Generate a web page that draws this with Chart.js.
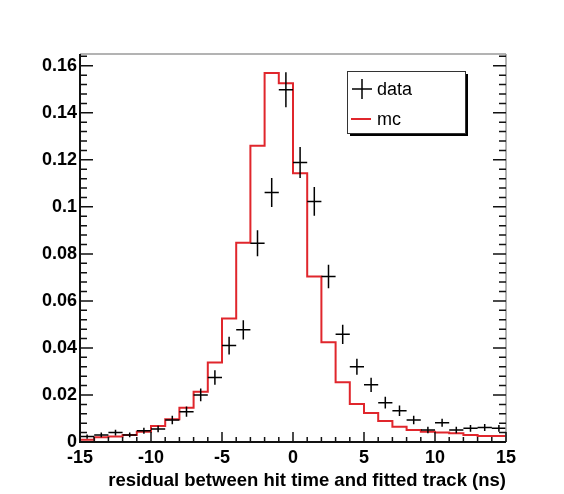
<!DOCTYPE html>
<html>
<head>
<meta charset="utf-8">
<script src="https://cdn.jsdelivr.net/npm/chart.js@4/dist/chart.umd.min.js"></script>
<style>
  html, body { margin: 0; padding: 0; background: #ffffff; }
  #wrap { width: 564px; height: 494px; position: relative; }
</style>
</head>
<body>
<div id="wrap"><canvas id="c" width="564" height="494"></canvas></div>
<script>
// Bin centres of the residual histogram (ns), 1 ns wide bins
const binCenters = [-14.5, -13.5, -12.5, -11.5, -10.5, -9.5, -8.5, -7.5, -6.5, -5.5,
                    -4.5, -3.5, -2.5, -1.5, -0.5, 0.5, 1.5, 2.5, 3.5, 4.5,
                    5.5, 6.5, 7.5, 8.5, 9.5, 10.5, 11.5, 12.5, 13.5, 14.5];
// Simulation (normalised)
const mcValues = [0.0006, 0.0010, 0.0020, 0.0023, 0.0030, 0.0044, 0.0068, 0.0097, 0.0146, 0.0214,
                  0.0338, 0.0525, 0.0847, 0.1260, 0.1569, 0.1526, 0.1143, 0.0704, 0.0424, 0.0254,
                  0.0162, 0.0123, 0.0089, 0.0065, 0.0051, 0.0044, 0.0040, 0.0037, 0.0030, 0.0026];
// Measured data (normalised) and its statistical errors
const dataValues = [0.0023, 0.0030, 0.0040, 0.0030, 0.0048, 0.0055, 0.0094, 0.0129, 0.0200, 0.0274,
                    0.0410, 0.0477, 0.0845, 0.1061, 0.1498, 0.1189, 0.1023, 0.0704, 0.0458, 0.0320,
                    0.0243, 0.0167, 0.0133, 0.0094, 0.0051, 0.0082, 0.0051, 0.0058, 0.0062, 0.0058];
const dataErrors = [0.0009, 0.0010, 0.0012, 0.0010, 0.0013, 0.0014, 0.0018, 0.0022, 0.0027, 0.0031,
                    0.0038, 0.0041, 0.0055, 0.0062, 0.0074, 0.0066, 0.0061, 0.0050, 0.0041, 0.0034,
                    0.0030, 0.0025, 0.0022, 0.0018, 0.0014, 0.0017, 0.0014, 0.0014, 0.0015, 0.0014];
const xTickLabels = [-15, -10, -5, 0, 5, 10, 15];
const yTickLabels = [0, 0.02, 0.04, 0.06, 0.08, 0.1, 0.12, 0.14, 0.16];
const binWidth = 1;

// Step outline points: left edge of every bin, then the right edge of the last one
const mcStep = binCenters.map((c, i) => ({ x: c - binWidth / 2, y: mcValues[i] }));
mcStep.push({ x: binCenters[binCenters.length - 1] + binWidth / 2, y: mcValues[mcValues.length - 1] });
const dataPts = binCenters.map((c, i) => ({ x: c, y: dataValues[i], err: dataErrors[i] }));

const FONT = '"Liberation Sans", Arial, Helvetica, sans-serif';

// Frame with inward ticks on left, bottom and right
const framePlugin = {
  id: 'frame',
  afterDraw(chart) {
    const { ctx, chartArea: a, scales: { x, y } } = chart;
    ctx.save();
    ctx.strokeStyle = '#9a9a9a';
    ctx.lineWidth = 1.5;
    ctx.beginPath();
    ctx.moveTo(a.left, a.top); ctx.lineTo(a.right, a.top);
    ctx.moveTo(a.right, a.top); ctx.lineTo(a.right, a.bottom);
    ctx.stroke();

    ctx.strokeStyle = '#111';
    ctx.lineWidth = 2;
    ctx.beginPath();
    ctx.moveTo(a.left, a.top); ctx.lineTo(a.left, a.bottom); ctx.lineTo(a.right, a.bottom);
    ctx.stroke();

    ctx.lineWidth = 1.5;
    ctx.beginPath();
    for (let v = x.min; v <= x.max + 1e-9; v += 1) {
      const px = x.getPixelForValue(v);
      const len = (Math.round(v) % 5 === 0) ? 10 : 5;
      ctx.moveTo(px, a.bottom); ctx.lineTo(px, a.bottom - len);
    }
    for (let k = 0; k * 0.004 <= y.max + 1e-9; k++) {
      const v = k * 0.004;
      const py = y.getPixelForValue(v);
      const len = (k % 5 === 0) ? 13 : 7;
      ctx.moveTo(a.left, py); ctx.lineTo(a.left + len, py);
      ctx.moveTo(a.right, py); ctx.lineTo(a.right - len, py);
    }
    ctx.stroke();
    ctx.restore();
  }
};

// Data points drawn as error crosses (full bin width horizontally)
const crossPlugin = {
  id: 'crosses',
  afterDatasetsDraw(chart) {
    const { ctx, scales: { x, y } } = chart;
    ctx.save();
    ctx.strokeStyle = '#000';
    ctx.lineWidth = 1.5;
    ctx.beginPath();
    dataPts.forEach(p => {
      const cx = x.getPixelForValue(p.x);
      const cy = y.getPixelForValue(p.y);
      ctx.moveTo(x.getPixelForValue(p.x - binWidth / 2), cy);
      ctx.lineTo(x.getPixelForValue(p.x + binWidth / 2), cy);
      ctx.moveTo(cx, y.getPixelForValue(p.y - p.err));
      ctx.lineTo(cx, y.getPixelForValue(p.y + p.err));
    });
    ctx.stroke();
    ctx.restore();
  }
};

// Boxed legend with drop shadow
const legendPlugin = {
  id: 'boxLegend',
  afterDraw(chart) {
    const ctx = chart.ctx;
    const bx = 347, by = 71, bw = 118, bh = 62;
    ctx.save();
    ctx.fillStyle = '#000';
    ctx.fillRect(bx + 3, by + 3, bw, bh);
    ctx.fillStyle = '#fff';
    ctx.fillRect(bx, by, bw, bh);
    ctx.strokeStyle = '#333';
    ctx.lineWidth = 1;
    ctx.strokeRect(bx + 0.5, by + 0.5, bw, bh);

    ctx.strokeStyle = '#000';
    ctx.lineWidth = 1.5;
    ctx.beginPath();
    ctx.moveTo(352, 89); ctx.lineTo(372, 89);
    ctx.moveTo(362, 79); ctx.lineTo(362, 99);
    ctx.stroke();
    ctx.strokeStyle = '#e0262c';
    ctx.lineWidth = 2;
    ctx.beginPath();
    ctx.moveTo(351, 119); ctx.lineTo(371, 119);
    ctx.stroke();

    ctx.fillStyle = '#000';
    ctx.font = '18px ' + FONT;
    ctx.textBaseline = 'middle';
    ctx.fillText(chart.data.datasets[0].label, 377, 90);
    ctx.fillText(chart.data.datasets[1].label, 377, 120);
    ctx.restore();
  }
};

new Chart(document.getElementById('c'), {
  data: {
    datasets: [
      { type: 'scatter', label: 'data', data: dataPts, pointRadius: 0, showLine: false },
      { type: 'line', label: 'mc', data: mcStep, stepped: 'after', borderColor: '#e0262c',
        borderWidth: 2, pointRadius: 0, fill: false, tension: 0 }
    ]
  },
  options: {
    responsive: false,
    animation: false,
    layout: { padding: { left: 0, top: 54, right: 58, bottom: 0 } },
    plugins: { legend: { display: false }, tooltip: { enabled: false } },
    scales: {
      x: {
        type: 'linear', min: -15, max: 15,
        afterFit(s) { s.height = 52; },
        afterBuildTicks(s) { s.ticks = xTickLabels.map(v => ({ value: v })); },
        grid: { display: false, drawTicks: false },
        border: { display: false },
        ticks: { color: '#000', padding: 5, maxRotation: 0, autoSkip: false,
                 font: { family: FONT, size: 18, weight: 'bold' },
                 callback: v => String(v) },
        title: { display: true, align: 'end', text: 'residual between hit time and fitted track (ns)',
                 color: '#000', padding: { top: 0, bottom: 2 },
                 font: { family: FONT, size: 18.5, weight: 'bold' } }
      },
      y: {
        type: 'linear', min: 0, max: 0.165,
        afterFit(s) { s.width = 80; },
        afterBuildTicks(s) { s.ticks = yTickLabels.map(v => ({ value: v })); },
        grid: { display: false, drawTicks: false },
        border: { display: false },
        ticks: { color: '#000', padding: 3, autoSkip: false,
                 font: { family: FONT, size: 18, weight: 'bold' },
                 callback: v => String(+v.toFixed(3)) }
      }
    }
  },
  plugins: [framePlugin, crossPlugin, legendPlugin]
});
</script>
</body>
</html>
